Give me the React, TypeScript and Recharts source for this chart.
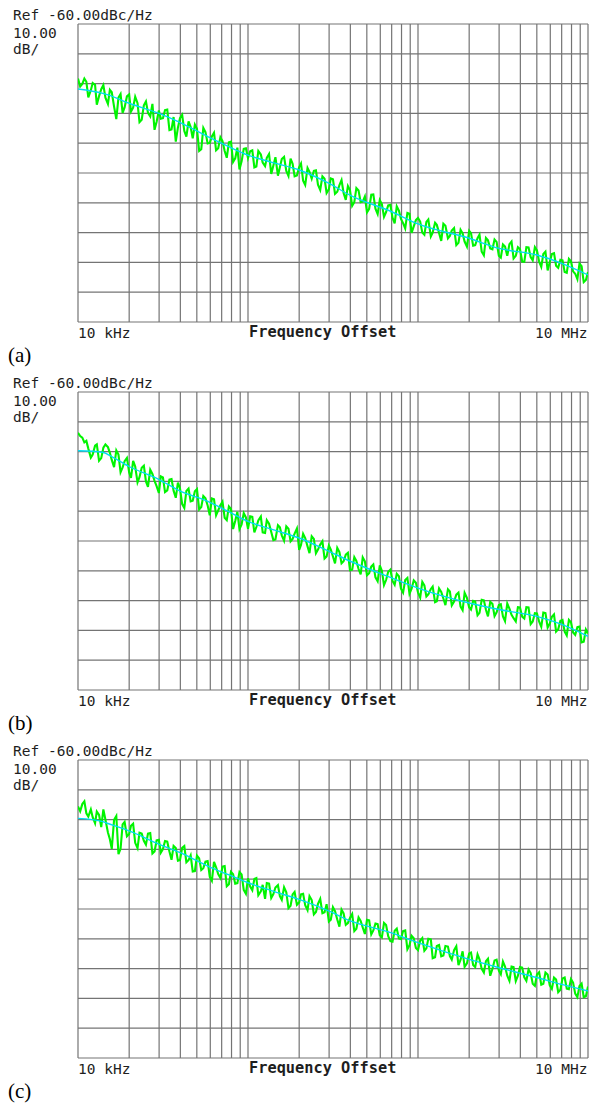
import React from 'react';
import { LineChart, Line, XAxis, YAxis, CartesianGrid } from 'recharts';

// sweep offsets of the raw trace, in kHz
const FREQ_KHZ = [
  10, 10.6, 11.2, 11.9, 12.6, 13.3, 14.1, 15, 15.8, 16.8, 17.8, 18.8, 20, 21.1, 22.4, 23.7, 25.1, 26.6, 28.2, 29.9,
  31.6, 33.5, 35.5, 37.6, 39.8, 42.2, 44.7, 47.3, 50.1, 53.1, 56.2, 59.6, 63.1, 66.8, 70.8, 75, 79.4, 84.1, 89.1, 94.4,
  100, 106, 112, 119, 126, 133, 141, 150, 158, 168, 178, 188, 200, 211, 224, 237, 251, 266, 282, 299,
  316, 335, 355, 376, 398, 422, 447, 473, 501, 531, 562, 596, 631, 668, 708, 750, 794, 841, 891, 944,
  1000, 1060, 1120, 1190, 1260, 1330, 1410, 1500, 1580, 1680, 1780, 1880, 2000, 2110, 2240, 2370, 2510, 2660, 2820, 2990,
  3160, 3350, 3550, 3760, 3980, 4220, 4470, 4730, 5010, 5310, 5620, 5960, 6310, 6680, 7080, 7500, 7940, 8410, 8910, 9440,
  10000,
];
// in-between sweep offsets, kHz
const FREQ_MID_KHZ = [
  10.3, 10.9, 11.5, 12.2, 12.9, 13.7, 14.5, 15.4, 16.3, 17.3, 18.3, 19.4, 20.5, 21.7, 23, 24.4, 25.8, 27.4, 29, 30.7,
  32.5, 34.5, 36.5, 38.7, 41, 43.4, 46, 48.7, 51.6, 54.6, 57.9, 61.3, 64.9, 68.8, 72.9, 77.2, 81.7, 86.6, 91.7, 97.2,
  103, 109, 115, 122, 129, 137, 145, 154, 163, 173, 183, 194, 205, 217, 230, 244, 258, 274, 290, 307,
  325, 345, 365, 387, 410, 434, 460, 487, 516, 546, 579, 613, 649, 688, 729, 772, 817, 866, 917, 972,
  1030, 1090, 1150, 1220, 1290, 1370, 1450, 1540, 1630, 1730, 1830, 1940, 2050, 2170, 2300, 2440, 2580, 2740, 2900, 3070,
  3250, 3450, 3650, 3870, 4100, 4340, 4600, 4870, 5160, 5460, 5790, 6130, 6490, 6880, 7290, 7720, 8170, 8660, 9170, 9720,
];

// raw (green) phase noise traces, dBc/Hz
const GREEN_A = [
  -78.3, -80.1, -79.4, -82.2, -80.4, -84.2, -80.5, -86.8, -82.9, -91.9, -83.5, -88.0, -83.6, -88.1, -86.6, -92.1, -86.0, -91.0, -95.5, -89.0,
  -91.6, -88.7, -95.4, -99.5, -91.6, -95.9, -92.7, -98.4, -95.2, -102.0, -96.3, -99.9, -96.5, -101.7, -99.3, -104.9, -99.5, -105.1, -108.8, -101.9,
  -105.0, -102.4, -107.8, -103.8, -107.7, -103.6, -107.5, -110.9, -105.3, -109.3, -105.2, -111.1, -108.0, -112.6, -108.3, -111.9, -109.1, -115.7, -111.9, -115.5,
  -112.1, -116.3, -112.4, -119.0, -115.7, -119.8, -115.9, -119.6, -123.2, -117.3, -122.0, -119.1, -124.7, -120.9, -125.0, -121.2, -125.4, -128.6, -123.7, -127.9,
  -125.1, -130.0, -126.4, -131.3, -126.7, -130.1, -127.0, -131.9, -129.3, -134.2, -129.1, -133.0, -129.4, -134.4, -131.9, -136.4, -131.8, -135.3, -132.3, -137.8,
  -134.0, -137.8, -133.0, -137.8, -135.5, -139.8, -135.0, -139.3, -136.0, -141.5, -136.4, -139.9, -136.9, -141.8, -139.3, -143.5, -139.6, -143.8, -140.4, -146.6,
  -143.2,
];
const GREEN_A_MID = [
  -81.0, -78.3, -84.6, -79.8, -87.1, -81.9, -84.7, -82.1, -87.7, -84.7, -89.8, -84.3, -89.4, -84.4, -92.9, -87.3, -89.8, -86.8, -92.8, -91.8,
  -88.9, -95.6, -91.2, -94.8, -90.5, -97.8, -94.6, -93.8, -102.6, -94.9, -100.1, -97.7, -102.4, -98.0, -102.6, -99.7, -106.3, -101.5, -106.1, -101.7,
  -102.7, -108.1, -102.6, -106.5, -104.9, -110.3, -104.7, -108.1, -104.6, -111.0, -106.9, -110.8, -106.8, -114.0, -109.6, -109.3, -113.9, -111.1, -116.7, -111.8,
  -117.0, -114.1, -116.7, -114.4, -121.0, -115.1, -119.8, -117.9, -122.0, -117.2, -123.8, -120.4, -123.1, -120.7, -126.9, -122.6, -126.8, -123.4, -130.1, -125.8,
  -126.3, -130.7, -125.6, -130.0, -127.4, -132.8, -127.7, -131.1, -128.5, -133.4, -130.3, -134.7, -130.2, -134.2, -130.7, -137.6, -132.6, -135.6, -133.1, -138.4,
  -134.7, -133.9, -138.7, -134.9, -139.7, -134.9, -138.2, -134.9, -139.8, -137.2, -142.7, -137.2, -141.1, -139.1, -143.2, -138.8, -143.0, -145.6, -141.3, -145.9,
];
const GREEN_B = [
  -73.7, -75.3, -76.4, -82.0, -78.0, -83.1, -78.7, -78.5, -82.8, -79.6, -86.9, -83.2, -87.0, -83.1, -90.3, -85.4, -90.0, -86.1, -89.8, -93.9,
  -88.7, -93.0, -89.2, -95.5, -92.3, -98.9, -92.4, -96.5, -92.6, -98.6, -95.7, -101.4, -96.0, -99.7, -96.8, -103.0, -99.2, -103.3, -106.0, -100.7,
  -105.9, -101.9, -105.3, -101.8, -107.3, -104.2, -109.7, -104.7, -108.1, -105.1, -110.1, -107.5, -113.0, -107.6, -111.8, -108.4, -114.1, -111.2, -115.9, -111.5,
  -115.2, -112.3, -117.5, -114.6, -119.8, -115.4, -119.4, -115.5, -121.5, -118.6, -122.2, -118.2, -124.8, -120.3, -123.4, -121.0, -126.0, -123.1, -127.7, -123.2,
  -127.3, -123.7, -128.6, -126.1, -130.5, -125.9, -129.3, -126.2, -131.6, -128.0, -132.0, -127.4, -132.3, -130.1, -134.9, -129.7, -133.1, -130.4, -135.2, -131.5,
  -135.3, -131.0, -134.8, -137.0, -132.3, -136.0, -132.3, -137.0, -134.3, -138.8, -134.2, -137.7, -134.6, -139.6, -136.5, -141.7, -137.3, -141.5, -138.7, -143.8,
  -141.0,
];
const GREEN_B_MID = [
  -74.8, -76.9, -79.0, -81.0, -77.6, -82.2, -77.6, -80.4, -85.2, -81.0, -85.3, -82.1, -88.8, -85.0, -88.6, -84.7, -91.8, -87.5, -91.6, -88.3,
  -93.6, -89.4, -93.1, -90.4, -97.6, -93.2, -96.7, -93.3, -99.4, -94.9, -98.1, -95.7, -101.4, -98.0, -102.2, -98.4, -106.0, -100.2, -104.4, -102.1,
  -101.7, -107.1, -103.1, -107.1, -103.0, -107.0, -109.5, -105.4, -109.9, -105.9, -109.3, -105.8, -111.3, -109.0, -114.1, -109.3, -112.9, -110.1, -115.2, -112.9,
  -117.5, -113.7, -116.8, -114.0, -119.6, -116.7, -121.2, -116.8, -120.8, -117.9, -123.5, -120.0, -123.1, -119.6, -124.7, -121.8, -127.3, -122.4, -126.0, -124.0,
  -129.0, -124.9, -127.9, -125.3, -130.2, -127.1, -131.5, -126.9, -130.3, -127.3, -133.2, -129.1, -133.0, -130.3, -134.1, -129.9, -135.3, -131.1, -133.9, -131.2,
  -136.9, -132.7, -135.9, -132.2, -135.4, -132.2, -137.9, -134.2, -137.1, -134.0, -139.0, -135.4, -140.4, -136.8, -140.4, -136.5, -140.7, -138.9, -144.0, -139.7,
];
const GREEN_C = [
  -75.6, -74.8, -77.9, -76.6, -81.2, -78.4, -76.6, -84.3, -89.8, -78.8, -89.8, -80.8, -84.8, -81.4, -89.6, -84.7, -88.4, -84.5, -90.7, -86.8,
  -89.9, -87.4, -93.5, -89.5, -93.6, -88.9, -93.6, -97.4, -92.1, -96.9, -94.1, -99.2, -94.2, -98.3, -95.8, -102.4, -97.5, -101.5, -97.6, -103.6,
  -99.7, -103.7, -99.6, -104.1, -106.6, -101.5, -105.0, -102.0, -106.9, -104.4, -108.9, -104.3, -107.8, -104.9, -110.4, -107.0, -111.0, -106.6, -111.1, -114.2,
  -109.4, -113.5, -110.2, -115.3, -113.0, -117.4, -112.8, -116.2, -113.6, -118.5, -114.9, -118.8, -114.7, -119.1, -121.0, -116.6, -120.1, -117.2, -122.2, -119.8,
  -123.8, -119.8, -123.2, -120.2, -126.2, -122.1, -125.6, -122.6, -127.0, -122.5, -127.0, -129.4, -124.9, -128.8, -125.2, -130.1, -127.5, -132.4, -127.3, -130.7,
  -127.6, -132.4, -129.3, -134.2, -129.5, -132.9, -130.3, -135.1, -132.0, -135.4, -131.3, -135.6, -133.0, -137.9, -133.3, -136.7, -133.5, -138.4, -135.8, -139.6,
  -136.0,
];
const GREEN_C_MID = [
  -77.2, -73.9, -79.0, -79.2, -77.3, -82.5, -80.0, -86.6, -80.1, -91.6, -81.6, -85.6, -82.1, -87.8, -84.4, -87.1, -84.7, -91.4, -87.0, -91.1,
  -87.2, -90.7, -88.8, -93.8, -89.5, -94.3, -92.0, -97.3, -93.0, -96.3, -93.9, -100.5, -96.0, -99.6, -95.6, -101.7, -98.3, -101.3, -98.4, -104.9,
  -102.5, -99.9, -105.4, -101.9, -101.3, -106.3, -102.8, -105.7, -102.7, -109.7, -105.1, -108.6, -105.1, -108.7, -105.7, -111.8, -108.3, -111.4, -108.4, -113.6,
  -110.7, -115.9, -111.5, -114.7, -111.7, -116.6, -114.0, -118.4, -113.8, -117.2, -115.1, -119.5, -115.4, -120.8, -117.3, -119.9, -117.4, -123.5, -119.0, -123.1,
  -120.6, -124.0, -120.0, -126.5, -122.4, -125.9, -122.4, -125.8, -123.8, -128.8, -124.2, -128.2, -124.6, -129.5, -126.9, -131.3, -126.7, -130.1, -127.0, -131.9,
  -129.3, -134.1, -129.5, -132.4, -129.7, -134.1, -131.5, -135.8, -131.2, -135.1, -132.0, -136.8, -133.7, -137.1, -133.0, -136.9, -134.7, -139.6, -135.0, -139.3,
];

// smoothed (cyan) traces
const SMOOTH_FREQ_KHZ = [10, 14, 15, 20, 30, 40, 58, 76, 100, 140, 200, 300, 400, 700, 1000, 2000, 3000, 5000, 7000, 10000];
const SMOOTH_A = [-81.8, -83.3, -83.8, -86.6, -90, -93.1, -97.8, -101, -104, -106.5, -109, -113.5, -117.5, -123, -127.1, -131.9, -135.3, -137.5, -140.3, -144.2];
const SMOOTH_B = [-79.7, -80.2, -81, -85, -89.4, -93.3, -96.7, -100, -103.4, -106.2, -109, -113.5, -116.8, -122.4, -125.8, -130.8, -133, -135.3, -138, -142];
const SMOOTH_C = [-79.6, -80.7, -81.3, -83.8, -88.3, -91.1, -95.6, -98.4, -101.2, -104, -106.8, -110.7, -114, -118, -121.3, -126.9, -129.7, -133, -135.3, -137.5];

const X_TICKS = [
  10, 20, 30, 40, 50, 60, 70, 80, 90,
  100, 200, 300, 400, 500, 600, 700, 800, 900,
  1000, 2000, 3000, 4000, 5000, 6000, 7000, 8000, 9000,
  10000,
];
const Y_TICKS = [-160, -150, -140, -130, -120, -110, -100, -90, -80, -70, -60];

const PANELS = [
  { caption: '(a)', green: GREEN_A, greenMid: GREEN_A_MID, smooth: SMOOTH_A, top: 24 },
  { caption: '(b)', green: GREEN_B, greenMid: GREEN_B_MID, smooth: SMOOTH_B, top: 392 },
  { caption: '(c)', green: GREEN_C, greenMid: GREEN_C_MID, smooth: SMOOTH_C, top: 760 },
];

const mono = '"DejaVu Sans Mono", "Liberation Mono", monospace';
const ink = '#1e1e1e';

const txt = (left: number, baseline: number, size: number, extra: React.CSSProperties = {}): React.CSSProperties => ({
  position: 'absolute',
  left,
  top: baseline - size * 0.85,
  fontSize: size,
  lineHeight: `${size}px`,
  whiteSpace: 'pre',
  color: ink,
  fontFamily: mono,
  ...extra,
});

type PanelProps = { caption: string; green: number[]; greenMid: number[]; smooth: number[]; top: number };

const Panel = ({ caption, green, greenMid, smooth, top }: PanelProps) => {
  // interleave the two sweeps so the trace runs left to right
  const raw: { f: number; v: number }[] = [];
  FREQ_KHZ.forEach((f, i) => {
    raw.push({ f, v: green[i] });
    if (i < FREQ_MID_KHZ.length) raw.push({ f: FREQ_MID_KHZ[i], v: greenMid[i] });
  });
  const avg = SMOOTH_FREQ_KHZ.map((f, i) => ({ f, v: smooth[i] }));
  return (
    <>
      <div style={txt(13, top - 4, 14.5)}>Ref -60.00dBc/Hz</div>
      <div style={txt(13, top + 14, 14.5)}>10.00</div>
      <div style={txt(13, top + 30, 14.5)}>dB/</div>
      <div style={{ position: 'absolute', left: 73, top: top - 5 }}>
        <LineChart width={520} height={308} margin={{ top: 5, right: 5, bottom: 5, left: 5 }}>
          <CartesianGrid stroke="#747474" strokeWidth={1.2} verticalValues={X_TICKS} horizontalValues={Y_TICKS} />
          <XAxis
            dataKey="f"
            type="number"
            scale="log"
            domain={[10, 10000]}
            ticks={X_TICKS}
            interval={0}
            allowDataOverflow
            tick={{ fill: 'transparent', fontSize: 1 }}
            tickLine={false}
            axisLine={false}
            height={0}
          />
          <YAxis
            type="number"
            domain={[-160, -60]}
            ticks={Y_TICKS}
            interval={0}
            allowDataOverflow
            tick={{ fill: 'transparent', fontSize: 1 }}
            tickLine={false}
            axisLine={false}
            width={0}
          />
          <Line data={raw} dataKey="v" stroke="#00f400" strokeWidth={2.1} strokeLinejoin="miter" dot={false} isAnimationActive={false} />
          <Line data={avg} dataKey="v" type="monotone" stroke="#00dcf2" strokeWidth={1.4} dot={false} isAnimationActive={false} />
        </LineChart>
      </div>
      <div style={txt(78, top + 314, 14.5)}>10 kHz</div>
      <div style={txt(249, top + 314, 15.3, { fontWeight: 'bold' })}>Frequency Offset</div>
      <div style={txt(535, top + 314, 14.5)}>10 MHz</div>
      <div style={txt(8, top + 339, 21, { fontFamily: '"Liberation Serif", "Times New Roman", serif', color: '#000' })}>{caption}</div>
    </>
  );
};

export default function App() {
  return (
    <div style={{ position: 'absolute', left: 0, top: 0, width: 599, height: 1107, background: '#fff', overflow: 'hidden' }}>
      {PANELS.map((p) => (
        <Panel key={p.caption} {...p} />
      ))}
    </div>
  );
}
